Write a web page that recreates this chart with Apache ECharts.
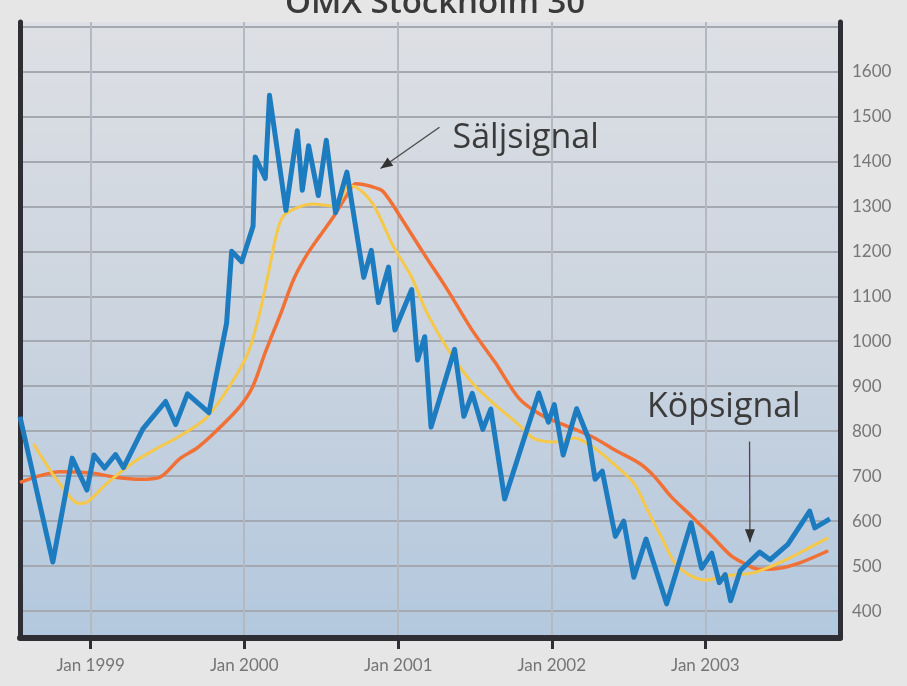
<!DOCTYPE html>
<html>
<head>
<meta charset="utf-8">
<script src="https://cdn.jsdelivr.net/npm/echarts@6/dist/echarts.min.js"></script>
<style>
html,body{margin:0;padding:0;background:#e6e6e6;}
#c{width:907px;height:686px;}
</style>
</head>
<body>
<div id="c"></div>
<script>
// ---------- data ----------
const titleText = 'OMX Stockholm 30';

const blueDates = ['1998-07-17','1998-10-03','1998-11-18','1998-12-23','1999-01-09','1999-02-03','1999-03-01','1999-03-20','1999-05-05','1999-06-28','1999-07-22','1999-08-19','1999-10-09','1999-11-20','1999-12-02','1999-12-26','2000-01-22','2000-01-27','2000-02-20','2000-03-01','2000-04-09','2000-05-06','2000-05-18','2000-06-02','2000-06-25','2000-07-14','2000-08-05','2000-09-01','2000-10-11','2000-10-29','2000-11-15','2000-12-09','2000-12-24','2001-02-02','2001-02-16','2001-03-05','2001-03-20','2001-05-15','2001-06-06','2001-06-26','2001-07-21','2001-08-09','2001-09-11','2001-12-01','2001-12-24','2002-01-07','2002-01-28','2002-03-01','2002-03-30','2002-04-14','2002-05-01','2002-06-01','2002-06-21','2002-07-15','2002-08-13','2002-10-01','2002-11-28','2002-12-23','2003-01-16','2003-02-03','2003-02-17','2003-03-02','2003-03-25','2003-05-10','2003-06-04','2003-07-16','2003-09-06','2003-09-18','2003-10-24'];
const blueValues = [832,509,740,669,747,718,748,719,805,866,815,883,841,1040,1200,1177,1256,1410,1362,1547,1291,1468,1336,1435,1324,1447,1286,1376,1142,1202,1086,1165,1025,1115,958,1010,809,982,833,884,804,849,649,885,820,859,747,850,782,693,711,566,600,475,560,416,596,495,529,463,481,423,490,531,514,548,622,585,605];

const yellowDates = ['1998-08-18','1998-10-14','1998-12-06','1998-12-26','1999-02-10','1999-04-13','1999-06-06','1999-07-30','1999-10-02','1999-11-25','2000-01-10','2000-02-07','2000-02-28','2000-03-21','2000-04-09','2000-06-12','2000-08-05','2000-09-05','2000-09-22','2000-11-02','2000-12-21','2001-02-01','2001-03-11','2001-04-29','2001-06-26','2001-08-14','2001-10-16','2001-11-19','2002-01-06','2002-02-23','2002-04-10','2002-05-28','2002-07-16','2002-08-17','2002-09-18','2002-10-22','2002-11-30','2003-01-03','2003-02-19','2003-04-29','2003-07-16','2003-09-03','2003-10-20'];
const yellowValues = [772,690,639,644,685,731,761,788,829,897,974,1064,1154,1250,1284,1305,1300,1345,1343,1305,1210,1144,1062,982,907,863,813,784,776,785,764,727,683,623,565,505,477,469,478,486,516,540,563];

const orangeDates = ['1998-07-17','1998-09-03','1998-10-20','1999-01-01','1999-03-05','1999-04-28','1999-06-15','1999-08-01','1999-09-10','1999-10-27','1999-12-20','2000-01-21','2000-02-20','2000-03-29','2000-04-28','2000-05-28','2000-06-30','2000-07-30','2000-08-29','2000-09-22','2000-11-02','2000-11-26','2001-01-06','2001-03-02','2001-04-27','2001-06-24','2001-08-20','2001-10-15','2001-12-07','2002-01-30','2002-04-10','2002-06-04','2002-07-29','2002-09-02','2002-10-11','2002-11-29','2003-01-16','2003-03-03','2003-04-07','2003-05-07','2003-06-17','2003-08-10','2003-10-20'];
const orangeValues = [686,701,710,707,697,693,698,739,762,801,853,899,975,1065,1139,1191,1236,1275,1320,1350,1343,1333,1277,1196,1116,1027,952,873,836,814,786,756,728,699,655,611,567,523,504,493,494,506,534];

const tickDates = ['1999-01-01','2000-01-01','2001-01-01','2002-01-01','2003-01-01'];
const tickLabels = ['Jan 1999','Jan 2000','Jan 2001','Jan 2002','Jan 2003'];
const yTickValues = [400,500,600,700,800,900,1000,1100,1200,1300,1400,1500,1600,1700];
const yLabelValues = [400,500,600,700,800,900,1000,1100,1200,1300,1400,1500,1600];
const xRange = ['1998-07-17','2003-11-17'];
const yRange = [340,1710];

// annotations (data coordinates)
const sellLabel = 'Säljsignal';
const sellText = ['2001-05-10',1451];
const sellFrom = ['2001-04-09',1476];
const sellTip = ['2000-11-20',1384];
const buyLabel = 'Köpsignal';
const buyText = ['2003-02-14',854];
const buyFrom = ['2003-04-16',777];
const buyTip = ['2003-04-17',553];

// ---------- chart ----------
const P = s => +echarts.time.parse(s);
const zip = (d, v) => d.map((s, i) => [P(s), v[i]]);
const tickTs = tickDates.map(P);
const dark = '#2e2e34';

const chart = echarts.init(document.getElementById('c'), null, {renderer: 'canvas'});

chart.setOption({
  backgroundColor: '#e6e6e6',
  animation: false,
  title: {
    text: titleText, left: 285, top: -13, padding: 0,
    textStyle: {fontFamily: 'Open Sans', fontSize: 33, fontWeight: 600, color: '#3a3a3a'}
  },
  grid: {
    left: 20, right: 67, top: 22, bottom: 48, show: true, borderWidth: 0,
    backgroundColor: new echarts.graphic.LinearGradient(0, 0, 0, 1, [
      {offset: 0, color: '#dddfe4'},
      {offset: 0.5, color: '#cbd4df'},
      {offset: 1, color: '#b3c8de'}
    ])
  },
  xAxis: {
    type: 'value', min: P(xRange[0]), max: P(xRange[1]),
    axisLine: {show: true, lineStyle: {color: dark, width: 6}},
    axisTick: {show: true, length: 11, customValues: tickTs, lineStyle: {color: dark, width: 3}},
    axisLabel: {
      customValues: tickTs, margin: 19, color: '#757575',
      fontFamily: 'Lato', fontSize: 17,
      formatter: v => { const i = tickTs.indexOf(+v); return i >= 0 ? tickLabels[i] : ''; }
    },
    splitLine: {show: true, lineStyle: {color: '#b4b9c1', width: 2}}
  },
  yAxis: [{
    type: 'value', position: 'right', min: yRange[0], max: yRange[1], splitNumber: 14,
    axisLine: {show: true, lineStyle: {color: dark, width: 5}},
    axisTick: {show: false, customValues: yTickValues},
    axisLabel: {
      customValues: yLabelValues, margin: 12, color: '#767676',
      fontFamily: 'Lato', fontSize: 17,
      formatter: v => (v >= 400 && v <= 1600 && v % 100 === 0) ? String(v) : ''
    },
    splitLine: {show: true, lineStyle: {color: '#a4a9b1', width: 2}}
  }, {
    type: 'value', position: 'left', min: yRange[0], max: yRange[1],
    axisLine: {show: true, lineStyle: {color: dark, width: 5}},
    axisTick: {show: false}, axisLabel: {show: false}, splitLine: {show: false}
  }],
  series: [
    {type: 'line', name: 'Långt medelvärde', data: zip(orangeDates, orangeValues), showSymbol: false, smooth: 0.3,
     lineStyle: {color: '#f07036', width: 3.5, join: 'round'}, z: 2},
    {type: 'line', name: 'Kort medelvärde', data: zip(yellowDates, yellowValues), showSymbol: false, smooth: 0.3,
     lineStyle: {color: '#f6c84a', width: 3, join: 'round'}, z: 3},
    {type: 'line', name: 'OMX Stockholm 30', data: zip(blueDates, blueValues), showSymbol: false,
     lineStyle: {color: '#1d7cc0', width: 5, join: 'round'}, z: 4}
  ]
});

function px(p) { return chart.convertToPixel({xAxisIndex: 0, yAxisIndex: 0}, [P(p[0]), p[1]]); }
function arrowHead(from, tip, len, half) {
  const dx = tip[0] - from[0], dy = tip[1] - from[1];
  const L = Math.sqrt(dx * dx + dy * dy);
  const ux = dx / L, uy = dy / L;
  const bx = tip[0] - ux * len, by = tip[1] - uy * len;
  return [[tip[0], tip[1]], [bx - uy * half, by + ux * half], [bx + uy * half, by - ux * half]];
}
const sT = px(sellText), sF = px(sellFrom), sP = px(sellTip);
const bT = px(buyText), bF = px(buyFrom), bP = px(buyTip);
const font = '34px "Open Sans"';
chart.setOption({
  graphic: [
    {type: 'text', z: 10, style: {text: sellLabel, x: sT[0], y: sT[1], font: font, fill: '#3b3b3b', align: 'left', verticalAlign: 'middle', textAlign: 'left', textVerticalAlign: 'middle'}},
    {type: 'line', z: 10, shape: {x1: sF[0], y1: sF[1], x2: sP[0], y2: sP[1]}, style: {stroke: '#4a4a4a', lineWidth: 1.3}},
    {type: 'polygon', z: 10, shape: {points: arrowHead(sF, sP, 12, 5)}, style: {fill: '#333'}},
    {type: 'text', z: 10, style: {text: buyLabel, x: bT[0], y: bT[1], font: font, fill: '#3b3b3b', align: 'center', verticalAlign: 'middle', textAlign: 'center', textVerticalAlign: 'middle'}},
    {type: 'line', z: 10, shape: {x1: bF[0], y1: bF[1], x2: bP[0], y2: bP[1]}, style: {stroke: '#4a4a4a', lineWidth: 1.3}},
    {type: 'polygon', z: 10, shape: {points: arrowHead(bF, bP, 13, 5)}, style: {fill: '#333'}}
  ]
});
</script>
</body>
</html>
